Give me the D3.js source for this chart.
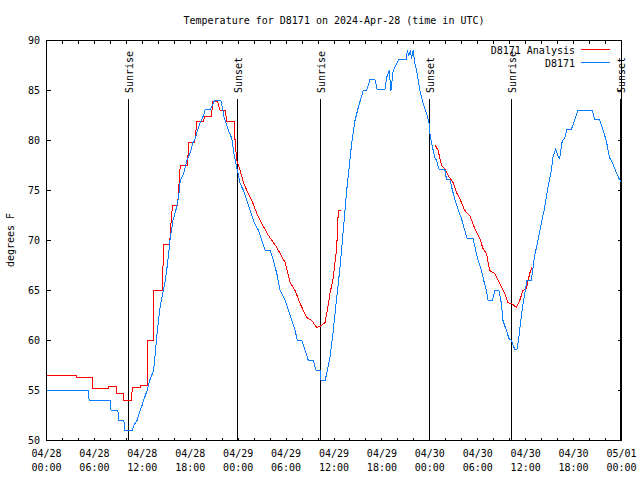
<!DOCTYPE html>
<html>
<head>
<meta charset="utf-8">
<script src="https://cdn.jsdelivr.net/npm/d3@7"></script>
<style>
  html, body { margin: 0; padding: 0; background: #fff; }
  svg { display: block; }
  text { font-family: "DejaVu Sans Mono", "Liberation Mono", monospace; font-size: 10px; fill: #000; }
</style>
</head>
<body>
<svg id="chart" width="640" height="480"></svg>
<script>
// ---- data (hours since 2024-04-28 00:00 UTC) ----
const startTime = "2024-04-28T00:00:00Z";
const titleText = "Temperature for D8171 on 2024-Apr-28 (time in UTC)";
const yLabel = "degrees F";
const yTicks = [50, 55, 60, 65, 70, 75, 80, 85, 90];
const seriesNames = ["D8171 Analysis", "D8171"];

const blueHours = [0, 5.21, 5.34, 7.96, 8.09, 8.94, 9.04, 9.69, 9.79, 10.75, 10.91, 11.34, 11.63, 11.96, 12.16, 12.59, 12.91, 13.41, 13.54, 13.88, 14.25, 14.63, 14.88, 15.09, 15.29, 15.5, 15.84, 16.25, 16.54, 16.75, 17.16, 17.59, 18, 18.34, 18.63, 18.91, 19.25, 19.66, 19.88, 20.5, 21.04, 21.84, 21.96, 22.25, 22.5, 22.79, 23.21, 23.41, 23.63, 23.91, 24.25, 24.66, 25.09, 25.5, 25.91, 26.54, 26.96, 27.38, 28, 28.41, 28.84, 29.25, 29.88, 30.29, 30.71, 31.13, 31.41, 31.96, 32.38, 32.79, 33.41, 33.75, 34.25, 34.38, 34.88, 35.09, 35.5, 35.91, 36.34, 36.75, 37.16, 37.59, 37.79, 38.21, 38.63, 39.04, 39.66, 40.09, 40.29, 40.5, 41.13, 41.41, 42.38, 42.59, 42.91, 43.13, 43.41, 44.13, 45.09, 45.16, 45.38, 45.56, 45.71, 45.91, 46.13, 46.41, 46.75, 47.16, 47.59, 47.91, 48, 48.34, 48.63, 48.84, 49.16, 49.88, 50.09, 50.5, 50.84, 51.13, 51.54, 51.96, 52.38, 52.66, 53.41, 53.75, 54.04, 54.46, 54.75, 55.09, 55.29, 55.84, 56.13, 56.66, 56.96, 57.16, 57.59, 57.91, 58.21, 58.63, 58.91, 59.13, 59.34, 59.59, 59.88, 60.16, 60.71, 60.91, 61.13, 61.54, 61.96, 62.38, 62.79, 63.21, 63.41, 63.75, 64.04, 64.25, 64.59, 64.88, 65.16, 65.71, 66.13, 66.54, 68.34, 68.63, 69.25, 69.66, 70.09, 70.5, 70.91, 71.34, 71.75, 72];
const blueTemps = [55, 55, 54, 54, 53, 53, 52, 52, 51, 51, 51.5, 52, 52.8, 53.5, 54, 55, 56, 57, 58, 61, 63.5, 65, 66, 67.3, 68.7, 70.3, 72, 73.2, 74.3, 76, 76.7, 78, 78.8, 79.8, 80.2, 81, 81.8, 82.5, 83.1, 83.1, 84, 84, 83.5, 82.3, 81.7, 81, 80.2, 79, 78, 77, 75.7, 75, 74, 73, 72, 71, 70, 69, 69, 68, 66.7, 65, 64, 63, 62, 61, 60, 60, 59, 58, 58, 57, 57, 56, 56, 56.7, 58.3, 61, 64.3, 67.3, 71, 75, 76.5, 79.7, 82, 83.3, 85, 85, 85.5, 86.1, 86.1, 85.1, 85.1, 86.3, 87, 85, 87, 88.1, 88.1, 89, 88.5, 89, 88.2, 89, 87.7, 86.7, 85, 83.7, 82.7, 81.7, 80.7, 79.3, 78.3, 78, 77.1, 77.1, 76.1, 76.1, 75, 74.1, 73.1, 72.2, 71, 70.2, 70.2, 69, 68, 67, 66, 65, 64, 64, 65, 65, 63.7, 62, 61, 60.2, 60, 59.1, 59.1, 60.2, 61.7, 63.2, 64.7, 66, 66, 67.2, 68.5, 70, 71.7, 73.3, 75.3, 77, 78.3, 79.1, 78.5, 78.2, 80, 80.2, 81.1, 81.1, 82, 83, 83, 82.1, 82.1, 81.1, 80, 78.3, 77.7, 76.8, 76.1, 75.8];

// null marks the gap in the analysis series
const redHours = [0, 3.75, 3.81, 5.71, 5.75, 7.75, 7.81, 8.75, 8.81, 9.63, 9.69, 10.66, 10.73, 11.71, 11.75, 12.59, 12.66, 13.38, 13.44, 14.5, 14.54, 14.66, 15.41, 15.66, 15.79, 16.41, 16.75, 17.66, 17.79, 18.54, 18.84, 19.66, 19.79, 20.63, 20.84, 21.41, 21.75, 22.38, 22.59, 23.5, 23.63, 23.84, 24.25, 24.66, 25.09, 25.71, 26.34, 26.96, 27.79, 28.84, 29.88, 30.5, 31.13, 31.75, 32.59, 33.21, 33.84, 34.25, 34.88, 35.09, 35.5, 35.91, 36.34, 36.54, 36.88, null, 48.63, 49.04, 49.46, 49.88, 50.29, 50.91, 51.34, 51.75, 52.38, 53, 53.63, 54.25, 54.66, 55.09, 55.5, 56.13, 56.75, 57.38, 57.79, 58.41, 58.84, 59.25, 59.66, 60.09, 60.5, 60.79];
const redTemps = [56.5, 56.5, 56.3, 56.3, 55.2, 55.2, 55.4, 55.4, 54.7, 54.7, 54, 54, 55.3, 55.3, 55.5, 55.5, 60, 60, 65, 65, 66, 69.6, 69.6, 72.5, 73.5, 73.5, 77.5, 77.5, 79.8, 79.8, 81.9, 81.9, 82.4, 82.4, 83.9, 83.9, 83, 83, 81.9, 81.9, 79.7, 78, 77, 75.8, 75, 74, 72.7, 71.7, 70.5, 69.3, 67.8, 65.8, 65, 63.7, 62.3, 62, 61.3, 61.4, 61.8, 62.7, 64.7, 66.3, 69.3, 73, 73, null, 79.6, 79, 77.5, 77.2, 76.5, 75.8, 74.8, 74.2, 73, 72.5, 71.2, 70.2, 69.2, 68.7, 67, 66.7, 65.7, 64.7, 63.8, 63.6, 63.3, 64, 65, 65.2, 66.7, 67.3];

const sunLabels = ["Sunrise", "Sunset", "Sunrise", "Sunset", "Sunrise", "Sunset"];
const sunHours = [10.3, 23.95, 34.35, 48.0, 58.25, 71.9];

// ---- drawing ----
const t0 = new Date(startTime);
const toDate = h => new Date(t0.getTime() + h * 3600 * 1000);

const svg = d3.select("#chart");
const pLeft = 46.5, pRight = 621.5, pTop = 40.5, pBottom = 440.5;

const x = d3.scaleUtc().domain([t0, toDate(72)]).range([pLeft, pRight]);
const y = d3.scaleLinear().domain([50, 90]).range([pBottom, pTop]);
const crisp = v => Math.floor(v) + 0.5;

// title
svg.append("text").attr("x", (pLeft + pRight) / 2).attr("y", 24)
  .attr("text-anchor", "middle").text(titleText);

// y label
svg.append("text").attr("transform", "translate(14,240) rotate(-90)")
  .attr("text-anchor", "middle").text(yLabel);

// y ticks and labels
const g = svg.append("g").attr("shape-rendering", "crispEdges");
yTicks.forEach(v => {
  const yy = crisp(y(v));
  g.append("line").attr("x1", pLeft).attr("x2", pLeft + 4).attr("y1", yy).attr("y2", yy).attr("stroke", "#000");
  g.append("line").attr("x1", pRight - 4).attr("x2", pRight).attr("y1", yy).attr("y2", yy).attr("stroke", "#000");
  svg.append("text").attr("x", 40).attr("y", yy + 3.5).attr("text-anchor", "end").text(v);
});

// x ticks (every 2 h) and labels (every 6 h)
const minorTicks = d3.utcHour.every(2).range(t0, toDate(72.01));
minorTicks.forEach(d => {
  const xx = crisp(x(d));
  g.append("line").attr("x1", xx).attr("x2", xx).attr("y1", pBottom).attr("y2", pBottom - 3).attr("stroke", "#000");
  g.append("line").attr("x1", xx).attr("x2", xx).attr("y1", pTop).attr("y2", pTop + 3).attr("stroke", "#000");
});
const majorTicks = d3.utcHour.every(6).range(t0, toDate(72.01));
const fmtDay = d3.utcFormat("%m/%d"), fmtHour = d3.utcFormat("%H:%M");
majorTicks.forEach(d => {
  const xx = x(d);
  svg.append("text").attr("x", xx).attr("y", 457).attr("text-anchor", "middle").text(fmtDay(d));
  svg.append("text").attr("x", xx).attr("y", 471).attr("text-anchor", "middle").text(fmtHour(d));
});

// sunrise / sunset lines
sunHours.forEach((h, i) => {
  const xx = crisp(x(toDate(h)));
  g.append("line").attr("x1", xx).attr("x2", xx).attr("y1", 98.5).attr("y2", pBottom).attr("stroke", "#000");
  svg.append("text").attr("transform", `translate(${xx + 4},93) rotate(-90)`)
    .attr("text-anchor", "start").text(sunLabels[i]);
});

// data lines
const blueData = blueHours.map((h, i) => ({ t: toDate(h), v: blueTemps[i] }));
const redData = redHours.map((h, i) => ({ t: h == null ? null : toDate(h), v: redTemps[i] }));
const line = d3.line().defined(d => d.t != null && d.v != null).x(d => x(d.t)).y(d => y(d.v));

svg.append("path").datum(redData).attr("d", line)
  .attr("fill", "none").attr("stroke", "#ff0000").attr("stroke-width", 1).attr("shape-rendering", "crispEdges");
svg.append("path").datum(blueData).attr("d", line)
  .attr("fill", "none").attr("stroke", "#0a7cff").attr("stroke-width", 1).attr("shape-rendering", "crispEdges");

// legend
const legColors = ["#ff0000", "#0a7cff"];
seriesNames.forEach((name, i) => {
  const yy = 49.5 + i * 13;
  svg.append("text").attr("x", 575).attr("y", yy + 4).attr("text-anchor", "end").text(name);
  g.append("line").attr("x1", 581).attr("x2", 610).attr("y1", yy).attr("y2", yy).attr("stroke", legColors[i]);
});

// border
g.append("rect").attr("x", pLeft).attr("y", pTop).attr("width", pRight - pLeft).attr("height", pBottom - pTop)
  .attr("fill", "none").attr("stroke", "#000");
</script>
</body>
</html>
